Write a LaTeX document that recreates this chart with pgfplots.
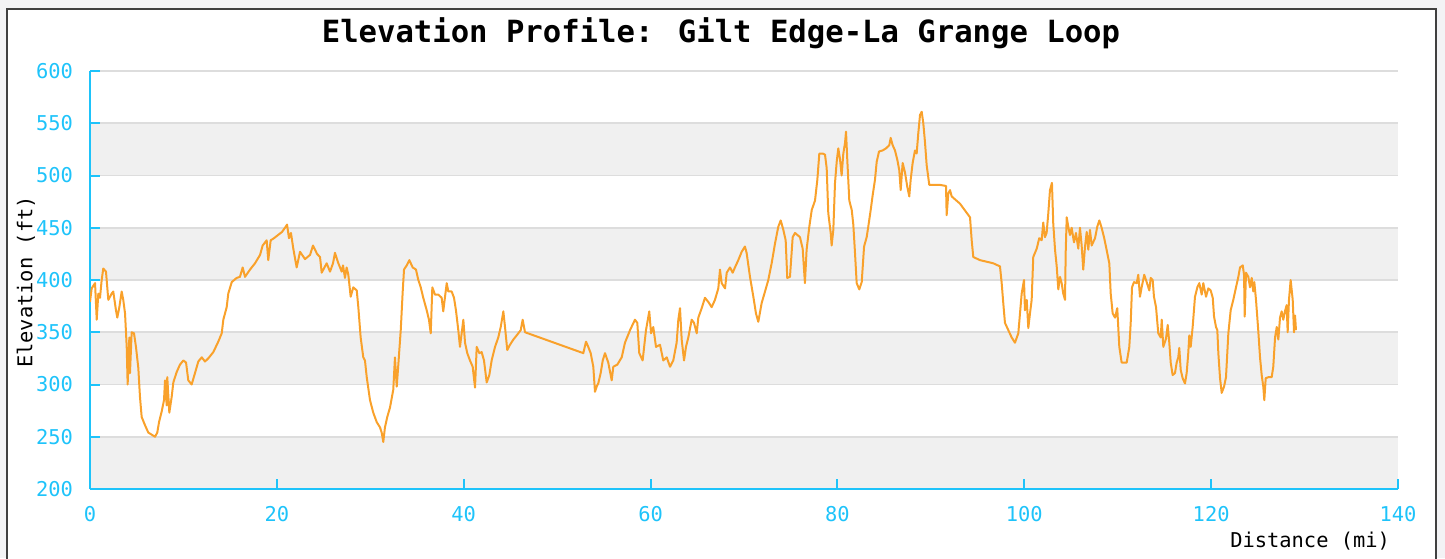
\documentclass[border=0pt]{standalone}
\usepackage{pgfplots}
\pgfplotsset{compat=1.18}
\usepackage{fontspec}
\setmainfont{DejaVu Sans Mono}
\definecolor{tickcyan}{HTML}{1EC3FA}
\definecolor{lineorange}{HTML}{F9A12B}
\definecolor{band}{HTML}{F0F0F0}
\definecolor{gridc}{HTML}{DDDDDD}
\definecolor{outerbg}{HTML}{F3F3F5}
\definecolor{framec}{HTML}{404040}
\begin{document}
\begin{tikzpicture}[x=0.5pt,y=0.5pt]
\fill[outerbg] (0,0) rectangle (6,558);
\fill[outerbg] (0,550) rectangle (1445,558);
\fill[outerbg] (1437,0) rectangle (1445,558);
\draw[framec, line width=1pt] (7,-20) -- (7,549) -- (1436,549) -- (1436,-20);
\begin{axis}[
  at={(45pt,34.5pt)}, anchor=south west,
  scale only axis, width=654pt, height=209pt,
  xmin=0, xmax=140, ymin=200, ymax=600,
  xtick={0,20,...,140}, ytick={200,250,...,600},
  axis lines=left, axis line style={tickcyan, line width=1pt, -},
  tick style={tickcyan, line width=1pt},
  tick align=inside, major tick length=5pt,
  ymajorgrids, grid style={gridc, line width=0.8pt},
  ticklabel style={tickcyan, font=\fontsize{10.2}{12}\selectfont},
  yticklabel style={xshift=-5pt},
  xticklabel style={yshift=-5pt},
  /pgf/number format/assume math mode=true,
  set layers,
]
\begin{pgfonlayer}{axis background}
\fill[band] (axis cs:0,200) rectangle (axis cs:140,250);
\fill[band] (axis cs:0,300) rectangle (axis cs:140,350);
\fill[band] (axis cs:0,400) rectangle (axis cs:140,450);
\fill[band] (axis cs:0,500) rectangle (axis cs:140,550);
\end{pgfonlayer}
\addplot[lineorange, line width=1pt, line join=round] coordinates {
(0.00,379)(0.18,392)(0.54,397)(0.72,362)(0.89,387)(1.07,383)(1.25,400)(1.42,411)(1.71,408)(1.96,381)
(2.32,387)(2.49,389)(2.78,371)(2.92,364)(3.14,374)(3.39,389)(3.56,381)(3.75,368)(3.93,336)(4.03,300)
(4.21,345)(4.28,311)(4.46,350)(4.71,349)(4.92,336)(5.17,316)(5.35,288)(5.53,269)(5.89,261)(6.24,254)
(6.60,252)(6.96,250)(7.20,254)(7.39,264)(7.67,274)(7.92,285)(8.03,304)(8.21,280)(8.27,307)(8.49,273)
(8.74,288)(8.92,302)(9.28,312)(9.63,319)(9.99,323)(10.28,321)(10.52,304)(10.88,300)(11.24,311)(11.59,322)
(11.96,326)(12.31,322)(12.66,325)(13.20,331)(13.73,341)(14.10,349)(14.27,362)(14.63,374)(14.80,387)(15.17,398)
(15.70,402)(16.05,403)(16.34,412)(16.59,403)(17.13,410)(17.66,416)(18.20,424)(18.48,433)(18.91,438)(19.08,419)
(19.34,438)(19.69,440)(20.12,443)(20.55,446)(20.87,450)(21.09,453)(21.30,440)(21.51,445)(21.76,430)(22.12,412)
(22.48,427)(23.01,420)(23.55,424)(23.87,433)(24.30,425)(24.62,422)(24.80,407)(25.33,416)(25.69,408)(26.01,416)
(26.22,426)(26.54,417)(26.94,408)(27.08,414)(27.29,402)(27.47,412)(27.65,405)(27.90,384)(28.18,393)(28.55,390)
(28.72,374)(28.97,345)(29.25,326)(29.43,323)(29.62,307)(29.97,285)(30.32,273)(30.69,264)(31.04,259)(31.22,254)
(31.39,245)(31.57,259)(31.82,269)(32.11,278)(32.46,295)(32.64,326)(32.83,298)(33.00,319)(33.26,352)(33.47,389)
(33.61,410)(33.90,414)(34.18,419)(34.54,412)(34.89,410)(35.14,400)(35.40,393)(35.67,383)(36.04,371)(36.28,362)
(36.47,349)(36.64,393)(36.93,386)(37.28,386)(37.64,383)(37.81,370)(38.00,384)(38.18,397)(38.35,389)(38.71,389)
(38.96,383)(39.17,371)(39.42,352)(39.60,336)(39.78,349)(39.96,362)(40.14,340)(40.38,330)(40.67,323)(40.96,317)
(41.21,297)(41.39,336)(41.67,330)(41.92,331)(42.17,323)(42.46,302)(42.74,309)(42.99,323)(43.35,336)(43.70,345)
(43.96,355)(44.24,370)(44.42,355)(44.66,333)(44.95,338)(45.31,343)(45.67,347)(46.10,352)(46.31,362)(46.56,350)
(52.80,330)(53.09,341)(53.33,336)(53.59,330)(53.87,317)(54.05,293)(54.23,298)(54.40,301)(54.66,311)(54.88,323)
(55.12,330)(55.47,321)(55.84,304)(56.01,317)(56.44,319)(56.91,326)(57.26,340)(57.80,352)(58.33,362)(58.58,359)
(58.79,330)(59.15,323)(59.51,352)(59.86,370)(60.05,349)(60.29,355)(60.58,336)(61.01,338)(61.36,323)(61.73,326)
(62.08,317)(62.43,323)(62.79,340)(62.97,362)(63.15,373)(63.33,343)(63.58,323)(63.79,336)(64.04,345)(64.40,362)
(64.65,359)(64.94,349)(65.11,364)(65.47,373)(65.82,383)(66.18,379)(66.54,374)(66.89,381)(67.25,392)(67.43,410)
(67.61,397)(67.97,392)(68.15,407)(68.50,412)(68.79,407)(69.03,412)(69.39,419)(69.75,427)(70.10,432)(70.28,426)
(70.64,403)(71.00,384)(71.28,368)(71.53,360)(71.89,378)(72.25,389)(72.60,400)(72.96,416)(73.32,435)(73.67,451)
(73.93,457)(74.21,448)(74.46,438)(74.63,402)(74.92,403)(75.21,441)(75.46,445)(75.99,441)(76.28,430)(76.52,397)
(76.70,429)(76.99,451)(77.25,467)(77.60,476)(77.85,496)(78.06,521)(78.42,521)(78.67,520)(78.85,507)(79.02,464)
(79.28,445)(79.38,433)(79.56,448)(79.74,493)(79.92,513)(80.09,526)(80.27,516)(80.45,500)(80.63,521)(80.81,531)
(80.92,542)(81.06,514)(81.27,476)(81.53,467)(81.70,453)(81.88,426)(82.06,397)(82.34,391)(82.60,398)(82.85,432)
(83.13,441)(83.30,451)(83.56,467)(83.77,481)(84.02,496)(84.20,513)(84.45,523)(84.84,524)(85.20,526)(85.55,529)
(85.70,536)(85.91,529)(86.16,524)(86.41,515)(86.62,505)(86.77,486)(86.98,512)(87.23,503)(87.48,489)(87.69,480)
(87.84,496)(88.05,512)(88.30,524)(88.48,521)(88.65,540)(88.84,558)(89.02,561)(89.19,550)(89.37,532)(89.55,510)
(89.83,491)(90.98,491)(91.62,490)(91.69,462)(91.87,483)(92.05,486)(92.23,480)(93.12,473)(94.19,460)(94.37,438)
(94.54,422)(95.26,419)(96.68,416)(97.40,413)(97.58,397)(97.75,378)(97.93,359)(98.29,352)(98.65,345)(99.00,340)
(99.36,349)(99.54,368)(99.72,387)(99.97,400)(100.07,371)(100.26,381)(100.43,354)(100.61,368)(100.79,381)(100.96,422)
(101.33,430)(101.60,440)(101.86,438)(102.03,455)(102.21,441)(102.39,445)(102.57,464)(102.75,486)(102.96,493)(103.10,454)
(103.29,429)(103.47,413)(103.64,391)(103.82,403)(104.00,397)(104.17,387)(104.36,381)(104.43,426)(104.54,460)(104.71,451)
(104.89,443)(105.07,450)(105.32,436)(105.53,445)(105.78,430)(105.96,450)(106.14,433)(106.31,410)(106.50,432)(106.68,446)
(106.85,429)(107.03,448)(107.21,433)(107.57,440)(107.81,451)(108.03,457)(108.28,450)(108.53,441)(108.81,429)(109.10,416)
(109.25,387)(109.46,368)(109.71,364)(109.95,373)(110.17,336)(110.42,321)(110.96,321)(111.24,336)(111.39,359)(111.53,393)
(111.74,398)(112.03,397)(112.20,405)(112.38,384)(112.56,393)(112.84,405)(113.10,398)(113.38,390)(113.53,402)(113.74,400)
(113.88,384)(114.10,374)(114.34,349)(114.60,345)(114.71,362)(114.88,336)(115.17,344)(115.35,357)(115.52,340)(115.67,321)
(115.88,309)(116.13,311)(116.31,321)(116.48,326)(116.59,335)(116.74,314)(116.95,306)(117.20,301)(117.38,311)(117.55,330)
(117.66,347)(117.81,336)(118.02,355)(118.27,384)(118.52,393)(118.73,397)(118.99,386)(119.16,397)(119.45,384)(119.70,392)
(119.95,390)(120.17,383)(120.31,365)(120.52,355)(120.66,352)(120.77,330)(120.95,306)(121.13,292)(121.38,298)(121.59,307)
(121.84,349)(122.09,371)(122.37,381)(122.66,393)(122.91,403)(123.09,412)(123.38,414)(123.52,405)(123.59,365)(123.73,407)
(123.98,403)(124.16,393)(124.34,402)(124.51,389)(124.62,398)(124.80,381)(125.04,352)(125.23,326)(125.41,309)(125.58,298)
(125.69,285)(125.84,306)(126.12,307)(126.48,307)(126.65,317)(126.84,345)(127.02,355)(127.19,343)(127.37,364)(127.55,370)
(127.72,362)(127.90,370)(128.08,376)(128.19,350)(128.33,381)(128.51,400)(128.73,381)(128.87,350)(128.98,366)(129.08,352)
};
\end{axis}
\node[font=\fontsize{15.3}{18}\selectfont\bfseries] at (721,525) {Elevation Profile: Gilt Edge-La Grange Loop};
\node[rotate=90, font=\fontsize{10.2}{12}\selectfont] at (26,276) {Elevation (ft)};
\node[anchor=east, font=\fontsize{10.2}{12}\selectfont] at (1397,17) {Distance (mi)};
\pgfresetboundingbox
\useasboundingbox (0,0) rectangle (1445,558);
\end{tikzpicture}
\end{document}
